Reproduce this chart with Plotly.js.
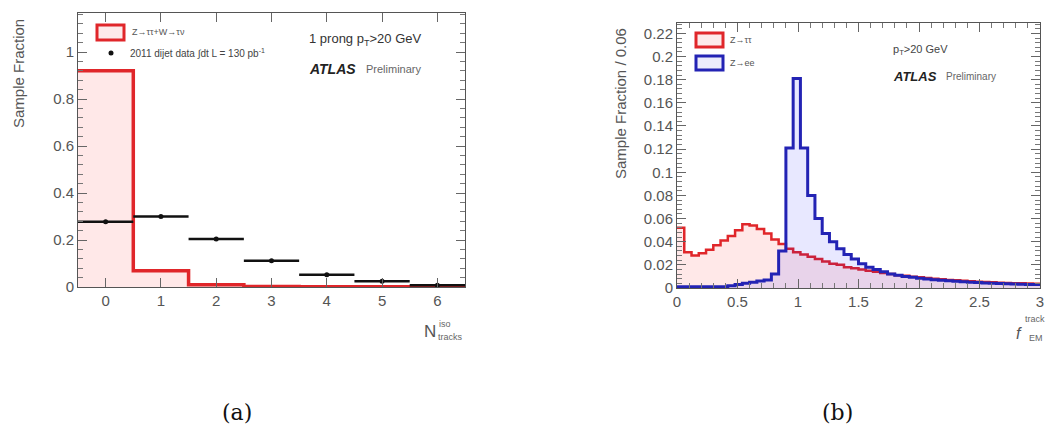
<!DOCTYPE html>
<html>
<head>
<meta charset="utf-8">
<script src="https://cdn.plot.ly/plotly-3.0.1.min.js"></script>
<style>html,body{margin:0;padding:0;background:#fff;}#chart{width:1050px;height:430px;}</style>
</head>
<body>
<div id="chart"></div>
<script>
// ---- Panel (a): isolation track multiplicity ----
const nTracks = [0, 1, 2, 3, 4, 5, 6];
const mcFrac = [0.920, 0.069, 0.010, 0.002, 0.001, 0.001, 0.001];
const dataFrac = [0.278, 0.300, 0.204, 0.112, 0.052, 0.024, 0.007];
const dataErr = [0.004, 0.004, 0.004, 0.003, 0.003, 0.002, 0.002];
const yTicksA = [0, 0.2, 0.4, 0.6, 0.8, 1];

// ---- Panel (b): f_EM^track, bin width 0.06 from 0 to 3 ----
const binWidth = 0.06;
const binStart = 0;
const tauFrac = [0.052, 0.031, 0.028, 0.030, 0.033, 0.037, 0.041, 0.045, 0.050, 0.055,
                 0.054, 0.051, 0.047, 0.042, 0.038, 0.034, 0.031, 0.029, 0.027, 0.025,
                 0.023, 0.021, 0.020, 0.018, 0.017, 0.016, 0.015, 0.014, 0.013, 0.012,
                 0.011, 0.0105, 0.0098, 0.0092, 0.0086, 0.0080, 0.0075, 0.0070, 0.0066, 0.0062,
                 0.0058, 0.0055, 0.0052, 0.0049, 0.0046, 0.0044, 0.0042, 0.0040, 0.0038, 0.0036];
const eeFrac = [0.001, 0.001, 0.001, 0.001, 0.001, 0.001, 0.001, 0.002, 0.003, 0.004,
                0.005, 0.006, 0.007, 0.012, 0.032, 0.121, 0.181, 0.121, 0.080, 0.060,
                0.047, 0.040, 0.034, 0.029, 0.025, 0.021, 0.018, 0.016, 0.014, 0.012,
                0.011, 0.010, 0.0092, 0.0085, 0.0078, 0.0072, 0.0067, 0.0062, 0.0058, 0.0054,
                0.0050, 0.0047, 0.0044, 0.0041, 0.0039, 0.0037, 0.0035, 0.0033, 0.0031, 0.0030];
const xTicksB = [0, 0.5, 1, 1.5, 2, 2.5, 3];

// step-histogram helper: edges + values -> hv polyline
function stepXY(lowEdges, width, vals) {
  const xs = [], ys = [];
  for (let i = 0; i < vals.length; i++) { xs.push(lowEdges[i]); ys.push(vals[i]); }
  xs.push(lowEdges[vals.length - 1] + width); ys.push(vals[vals.length - 1]);
  return {x: xs, y: ys};
}

const edgesA = nTracks.map(n => n - 0.5);
const stA = stepXY(edgesA, 1, mcFrac);
const edgesB = tauFrac.map((_, i) => binStart + i * binWidth);
const stTau = stepXY(edgesB, binWidth, tauFrac);
const stEe = stepXY(edgesB, binWidth, eeFrac);

const RED = '#e0262a', BLUE = '#2323b4';
const traces = [
  {x: stA.x, y: stA.y, xaxis: 'x', yaxis: 'y', mode: 'lines', line: {shape: 'hv', color: RED, width: 3.5},
   fill: 'tozeroy', fillcolor: 'rgba(255,0,0,0.09)', hoverinfo: 'skip'},
  {x: nTracks, y: dataFrac, xaxis: 'x', yaxis: 'y', mode: 'markers', marker: {color: '#111', size: 5},
   error_x: {type: 'constant', value: 0.5, color: '#111', thickness: 2.5, width: 0},
   error_y: {type: 'data', array: dataErr, color: '#111', thickness: 1.5, width: 0}},
  {x: stTau.x, y: stTau.y, xaxis: 'x2', yaxis: 'y2', mode: 'lines', line: {shape: 'hv', color: RED, width: 2.5},
   fill: 'tozeroy', fillcolor: 'rgba(255,0,0,0.09)', hoverinfo: 'skip'},
  {x: stEe.x, y: stEe.y, xaxis: 'x2', yaxis: 'y2', mode: 'lines', line: {shape: 'hv', color: BLUE, width: 3},
   fill: 'tozeroy', fillcolor: 'rgba(0,0,255,0.09)', hoverinfo: 'skip'}
];

const W = 1050, H = 430;
const px = v => v / W, py = v => 1 - v / H;
const axBase = {showgrid: false, zeroline: false, showline: true, linecolor: '#555', linewidth: 1,
  mirror: 'allticks', ticks: 'inside', tickcolor: '#666', ticklen: 9,
  tickfont: {family: 'Liberation Sans, Arial', size: 15, color: '#555'}};

const layout = {
  width: W, height: H, margin: {l: 0, r: 0, t: 0, b: 0},
  paper_bgcolor: '#fff', plot_bgcolor: '#fff', showlegend: false,
  xaxis: Object.assign({}, axBase, {domain: [px(78), px(465)], range: [-0.5, 6.5], tickvals: nTracks,
    anchor: 'y'}),
  yaxis: Object.assign({}, axBase, {domain: [py(287), py(13)], range: [0, 1.166], tickvals: yTicksA,
    anchor: 'x', minor: {dtick: 0.04, ticks: 'inside', ticklen: 5, tickcolor: '#777'}}),
  xaxis2: Object.assign({}, axBase, {domain: [px(677), px(1040)], range: [0, 3], tickvals: xTicksB,
    ticktext: ['0', '0.5', '1', '1.5', '2', '2.5', '3'], anchor: 'y2',
    minor: {dtick: 0.1, ticks: 'inside', ticklen: 5, tickcolor: '#777'}}),
  yaxis2: Object.assign({}, axBase, {domain: [py(288), py(23)], range: [0, 0.229], dtick: 0.02,
    tickformat: '.2~f', anchor: 'x2', minor: {dtick: 0.004, ticks: 'inside', ticklen: 5, tickcolor: '#777'}}),
  shapes: [
    {type: 'rect', xref: 'paper', yref: 'paper', x0: px(97), x1: px(124), y0: py(40), y1: py(25),
     line: {color: RED, width: 3}, fillcolor: '#fdeaea'},
    {type: 'circle', xref: 'paper', yref: 'paper', x0: px(108.5), x1: px(113.5), y0: py(55.5), y1: py(50.5),
     line: {color: '#111', width: 0}, fillcolor: '#111'},
    {type: 'rect', xref: 'paper', yref: 'paper', x0: px(696), x1: px(723), y0: py(47), y1: py(33),
     line: {color: RED, width: 3}, fillcolor: '#fdeaea'},
    {type: 'rect', xref: 'paper', yref: 'paper', x0: px(696), x1: px(723), y0: py(70), y1: py(56),
     line: {color: BLUE, width: 3}, fillcolor: '#ececfb'}
  ],
  annotations: []
};

function ann(text, x, y, opts) {
  layout.annotations.push(Object.assign({text: text, xref: 'paper', yref: 'paper', x: px(x), y: py(y),
    showarrow: false, xanchor: 'left', yanchor: 'middle',
    font: {family: 'Liberation Sans, Arial', size: 10, color: '#444'}}, opts || {}));
}
const F = (size, color, extra) => Object.assign({family: 'Liberation Sans, Arial', size: size, color: color || '#444'}, extra || {});

// axis titles
ann('Sample Fraction', 18, 74, {textangle: -90, xanchor: 'center', font: F(15, '#555')});
ann('Sample Fraction / 0.06', 621, 104, {textangle: -90, xanchor: 'center', font: F(15, '#555')});
ann('N', 422, 331, {font: F(17, '#555')});
ann('iso', 437, 324, {font: F(9, '#666')});
ann('tracks', 436, 337, {font: F(9, '#666')});
ann('<i>f</i>', 1014, 333, {font: F(16, '#555')});
ann('track', 1023, 319, {font: F(9, '#666')});
ann('EM', 1027, 338, {font: F(9, '#666')});

// legend texts (a)
ann('Z→ττ+W→τν', 130, 32, {font: F(9, '#555')});
ann('2011 dijet data ∫dt L = 130 pb<sup>-1</sup>', 128, 53, {font: F(10, '#444')});
ann('1 prong p<sub>T</sub>>20 GeV', 307, 40, {font: F(13, '#333')});
ann('<b><i>ATLAS</i></b>', 307, 69, {font: F(14, '#222')});
ann('Preliminary', 364, 69, {font: F(11, '#666')});

// legend texts (b)
ann('Z→ττ', 728, 40, {font: F(9, '#555')});
ann('Z→ee', 728, 63, {font: F(9, '#555')});
ann('p<sub>T</sub>>20 GeV', 891, 50, {font: F(11, '#444')});
ann('<b><i>ATLAS</i></b>', 891, 76, {font: F(13, '#222')});
ann('Preliminary', 944, 77, {font: F(10, '#666')});

// panel labels
ann('(a)', 237, 412, {xanchor: 'center', font: {family: 'DejaVu Serif, Liberation Serif, serif', size: 22, color: '#111'}});
ann('(b)', 837, 412, {xanchor: 'center', font: {family: 'DejaVu Serif, Liberation Serif, serif', size: 22, color: '#111'}});

Plotly.newPlot('chart', traces, layout, {staticPlot: true, displayModeBar: false});
</script>
</body>
</html>
